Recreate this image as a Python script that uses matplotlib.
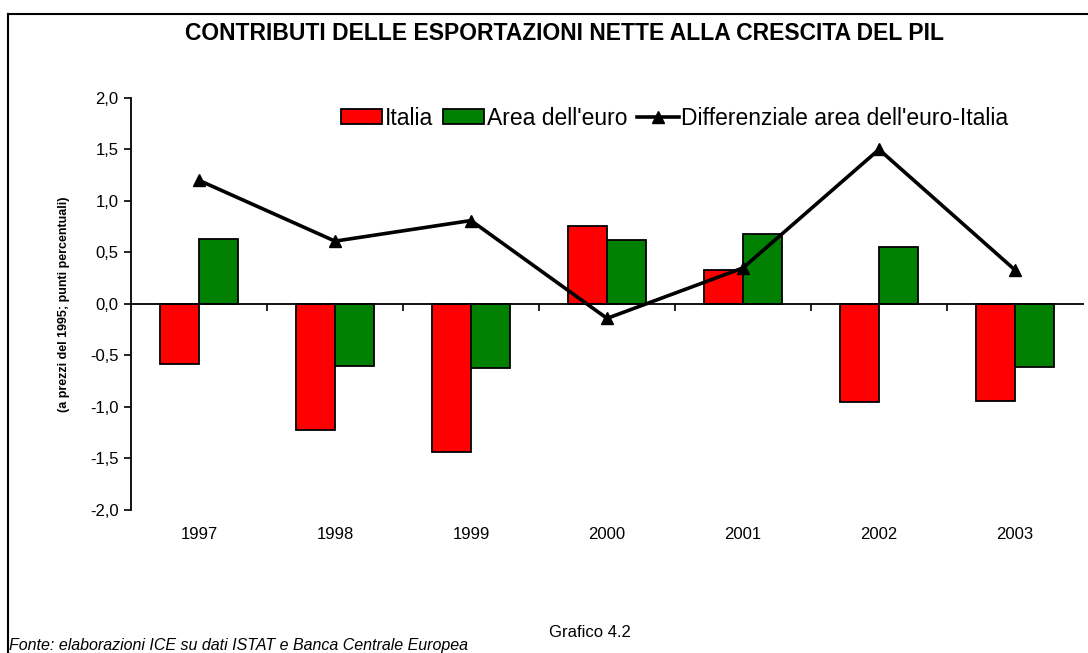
import numpy as np
import matplotlib.pyplot as plt
from matplotlib.patches import Patch
from matplotlib.lines import Line2D

plt.rcParams['font.family'] = ['Liberation Sans', 'DejaVu Sans']

# dati
anni = ['1997', '1998', '1999', '2000', '2001', '2002', '2003']
italia = [-0.58, -1.22, -1.44, 0.76, 0.33, -0.95, -0.94]
area_euro = [0.63, -0.60, -0.62, 0.62, 0.68, 0.55, -0.61]
differenziale = [1.20, 0.61, 0.81, -0.14, 0.35, 1.50, 0.33]

fig = plt.figure(figsize=(10.88, 6.53), dpi=100)
ax = fig.add_axes([0.1204, 0.219, 0.875, 0.631])

x = np.arange(len(anni))
w = 0.285
ax.bar(x - w / 2, italia, w, color='#ff0000', edgecolor='black', linewidth=1.3, zorder=2)
ax.bar(x + w / 2, area_euro, w, color='#008000', edgecolor='black', linewidth=1.3, zorder=2)
ax.plot(x, differenziale, color='black', linewidth=2.6, marker='^', markersize=9, zorder=3)

ax.set_xlim(-0.5, 6.5)
ax.set_ylim(-2.0, 2.0)

# asse y
yt = np.arange(-2.0, 2.01, 0.5)
ax.set_yticks(yt)
ax.set_yticklabels([f'{v:.1f}'.replace('.', ',') for v in yt], fontsize=12)
ax.tick_params(axis='y', direction='out', length=5, width=1.2, pad=4)

# asse x sulla linea dello zero
ax.spines['top'].set_visible(False)
ax.spines['right'].set_visible(False)
ax.spines['bottom'].set_position(('data', 0))
ax.spines['bottom'].set_linewidth(1.3)
ax.spines['left'].set_linewidth(1.3)
ax.set_xticks(np.arange(0.5, 6.5, 1.0))
ax.set_xticklabels([])
ax.tick_params(axis='x', direction='out', length=5, width=1.2)
for i, a in enumerate(anni):
    ax.text(x[i], -0.06, a, transform=ax.get_xaxis_transform(), ha='center', va='center', fontsize=12)

ax.set_ylabel('(a prezzi del 1995; punti percentuali)', fontsize=9, fontweight='bold')
ax.yaxis.set_label_coords(-0.064, 0.5)

handles = [
    Patch(facecolor='#ff0000', edgecolor='black', linewidth=1.3),
    Patch(facecolor='#008000', edgecolor='black', linewidth=1.3),
    Line2D([], [], color='black', linewidth=2.6, marker='^', markersize=9),
]
ax.legend(handles, ['Italia', "Area dell'euro", "Differenziale area dell'euro-Italia"],
          ncol=3, loc='center', bbox_to_anchor=(0.571, 0.951), frameon=False, fontsize=16.5,
          handlelength=1.8, handleheight=0.6, handletextpad=0.1, columnspacing=0.45,
          borderaxespad=0)

fig.text(0.519, 0.949, 'CONTRIBUTI DELLE ESPORTAZIONI NETTE ALLA CRESCITA DEL PIL',
         ha='center', va='center', fontsize=16.5, fontweight='bold')
fig.text(0.542, 0.032, 'Grafico 4.2', ha='center', va='center', fontsize=12)
fig.text(0.008, 0.005, 'Fonte: elaborazioni ICE su dati ISTAT e Banca Centrale Europea',
         ha='left', va='baseline', fontsize=11.5, style='italic')

# cornice
fig.add_artist(Line2D([8 / 1088, 8 / 1088], [0, 1 - 13.5 / 653], color='black', linewidth=1.5))
fig.add_artist(Line2D([8 / 1088, 1], [1 - 13.5 / 653, 1 - 13.5 / 653], color='black', linewidth=1.5))

fig.savefig('out.png', dpi=100)
